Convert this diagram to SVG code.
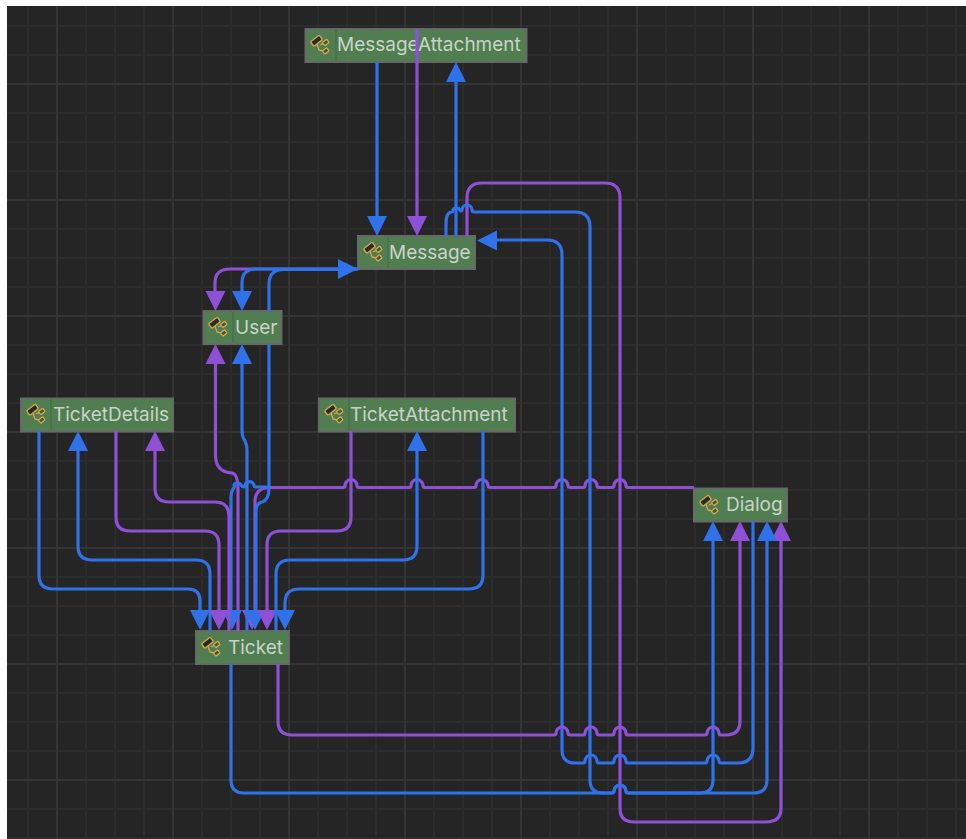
<svg xmlns="http://www.w3.org/2000/svg" width="966" height="839" viewBox="0 0 966 839">
<style>
.bg{fill:#252525}
.mi{stroke:#2c2c2c;stroke-width:2;fill:none}
.ma{stroke:#343434;stroke-width:2;fill:none}
.box{fill:#507e50;stroke:#686868;stroke-width:2}
.div{stroke:#487148;stroke-width:1.5}
.lbl{font-family:"Inter","Liberation Sans",sans-serif;font-size:19px;fill:#c9d3c9}
.b,.p{fill:none;stroke-width:3.200;stroke-linejoin:round;stroke-linecap:butt}
.b{stroke:#2f72ea}
.p{stroke:#8f50d8}
.hb{fill:#2f72ea}
.hp{fill:#8f50d8}
</style>
<defs>
<symbol id="ic" viewBox="0 0 20 20" width="20" height="20" overflow="visible">
<g fill="none" stroke="#d8a64c" stroke-width="1.300">
<path d="M7,9 L9,15 L13,16 M10,10 L14,8"/>
<rect x="1" y="3" width="11" height="5.500" rx="1" fill="#2a2a2a" transform="rotate(-38 6.500 5.700)"/>
<rect x="13" y="5.500" width="5.500" height="4" rx="1" fill="#3f5a38" transform="rotate(-38 15.700 7.500)"/>
<rect x="13" y="14" width="5.500" height="4" rx="1" fill="#3f5a38" transform="rotate(-38 15.700 16)"/>
</g>
</symbol>
<path id="down" d="M-10,-20 H10 L0,0 Z"/>
<path id="up" d="M-10,20 H10 L0,0 Z"/>
</defs>
<rect x="7" y="6" width="959" height="833" class="bg"/>
<g id="grid">
<path class="mi" d="M28,6V839M86,6V839M115,6V839M144,6V839M202,6V839M231,6V839M260,6V839M318,6V839M347,6V839M376,6V839M434,6V839M463,6V839M492,6V839M550,6V839M579,6V839M608,6V839M666,6V839M695,6V839M724,6V839M782,6V839M811,6V839M840,6V839M898,6V839M927,6V839M956,6V839"/>
<path class="mi" d="M7,26H966M7,55H966M7,113H966M7,142H966M7,171H966M7,229H966M7,258H966M7,287H966M7,345H966M7,374H966M7,403H966M7,461H966M7,490H966M7,519H966M7,577H966M7,606H966M7,635H966M7,693H966M7,722H966M7,751H966M7,809H966M7,838H966"/>
<path class="ma" d="M57,6V839M173,6V839M289,6V839M405,6V839M521,6V839M637,6V839M753,6V839M869,6V839"/>
<path class="ma" d="M7,84H966M7,200H966M7,316H966M7,432H966M7,548H966M7,664H966M7,780H966"/>
</g>
<g id="MessageAttachment"><rect class="box" x="305.500" y="29" width="221" height="33"/><path class="div" d="M336,30V61"/><use href="#ic" x="310" y="35"/><text class="lbl" x="337" y="51">MessageAttachment</text></g>
<g id="Message"><rect class="box" x="358" y="236" width="117" height="33"/><path class="div" d="M388,237V268"/><use href="#ic" x="363" y="242"/><text class="lbl" x="389" y="259">Message</text></g>
<g id="User"><rect class="box" x="203.500" y="311" width="78" height="33"/><path class="div" d="M233,312V343"/><use href="#ic" x="208" y="317"/><text class="lbl" x="235" y="334">User</text></g>
<g id="TicketDetails"><rect class="box" x="21" y="398.500" width="152" height="33"/><path class="div" d="M51,399V431"/><use href="#ic" x="26" y="404"/><text class="lbl" x="53" y="421">TicketDetails</text></g>
<g id="TicketAttachment"><rect class="box" x="319" y="398.500" width="196" height="33"/><path class="div" d="M349,399V431"/><use href="#ic" x="324" y="404"/><text class="lbl" x="350" y="421">TicketAttachment</text></g>
<g id="Dialog"><rect class="box" x="694" y="488.500" width="93" height="33"/><use href="#ic" x="699" y="495"/><text class="lbl" x="726" y="511">Dialog</text></g>
<g id="Ticket"><rect class="box" x="196" y="631" width="93" height="33"/><use href="#ic" x="201" y="637"/><text class="lbl" x="228" y="654">Ticket</text></g>
<g id="connectors">
<path class="p" d="M694,487.500H628q-2,0 -2,-2a6,6 0 0 0 -12,0q0,2 -2,2H599q-2,0 -2,-2a6,6 0 0 0 -12,0q0,2 -2,2H570q-2,0 -2,-2a6,6 0 0 0 -12,0q0,2 -2,2H490q-2,0 -2,-2a6,6 0 0 0 -12,0q0,2 -2,2H425q-2,0 -2,-2a6,6 0 0 0 -12,0q0,2 -2,2H359q-2,0 -2,-2a6,6 0 0 0 -12,0q0,2 -2,2H270Q255,487.500 255,502V611"/>
<use href="#down" x="252" y="630" class="hp"/>
<path class="p" d="M417,29V216"/><use href="#down" x="417" y="236" class="hp"/>
<path class="b" d="M377,62V216"/><use href="#down" x="377" y="236" class="hb"/>
<path class="b" d="M456,236V82"/><use href="#up" x="456" y="62" class="hb"/>
<path class="p" d="M467,236V198Q467,183 482,183H605Q620,183 620,198V808Q620,822 634,822H766Q781,822 781,808V541"/><use href="#up" x="781" y="521" class="hp"/>
<path class="b" d="M446,236V224Q446,212 452,212q1,0 1,-2a4,4 0 0 1 7,0q1,2 2,0a5,5 0 0 1 10,0q0,2 3,2H575Q590,212 590,227V780Q590,793 603,793H612q2,0 2,-2a6,6 0 0 1 12,0q0,2 2,2H754Q767,793 767,780V541"/><use href="#up" x="767" y="521" class="hb"/>
<path class="b" d="M753,521V748Q753,763 738,763H721q-2,0 -2,-2a6,6 0 0 0 -12,0q0,2 -2,2H628q-2,0 -2,-2a6,6 0 0 0 -12,0q0,2 -2,2H599q-2,0 -2,-2a6,6 0 0 0 -12,0q0,2 -2,2H575Q562,763 562,750V255Q562,240 547,240H497"/>
<path class="hb" d="M477,240.500L497,230.500V250.500Z"/>
<path class="b" d="M231,664V780Q231,793 244,793H612q2,0 2,-2a6,6 0 0 1 12,0q0,2 2,2H700Q713,793 713,780V541"/><use href="#up" x="713" y="521" class="hb"/>
<path class="p" d="M278,664V721Q278,735 292,735H554q2,0 2,-2a6,6 0 0 1 12,0q0,2 2,2H583q2,0 2,-2a6,6 0 0 1 12,0q0,2 2,2H612q2,0 2,-2a6,6 0 0 1 12,0q0,2 2,2H705q2,0 2,-2a6,6 0 0 1 12,0q0,2 2,2H726Q740,735 740,721V541"/><use href="#up" x="740" y="521" class="hp"/>
<path class="p" d="M358,269H230Q215,269 215,283V291"/><use href="#down" x="215.500" y="311" class="hp"/>
<path class="b" d="M358,269H256Q242,269 242,283V291"/><use href="#down" x="242" y="311" class="hb"/>
<path class="b" d="M269,311V284Q269,269.500 284,269.500H339"/><path class="hb" d="M358,269L338,259V279Z"/>
<path class="p" d="M215.500,364V455Q215.500,472 232,473Q238,474 238,490V631"/><use href="#up" x="215.500" y="344" class="hp"/>
<path class="b" d="M247,631V450Q247,445 245,441Q242,437 242,430V364"/><use href="#up" x="242" y="344" class="hb"/>
<path class="b" d="M269,344V488Q269,500 262,502Q256,503 256,512V611"/><use href="#down" x="255" y="630" class="hb"/>
<path class="b" d="M231,611V497Q231,492 233,489Q235,487 234,485a4,4 0 0 1 7,0q1,2 3,2h0q1,0 1,-2a5,6 0 0 1 9,0q0,2 2,2H269"/><use href="#down" x="232" y="630" class="hb"/>
<path class="b" d="M39,431V575Q39,589 53,589H188Q200,589 200,601V611"/><use href="#down" x="200" y="630" class="hb"/>
<path class="b" d="M210,631V574Q210,560 196,560H92Q78,560 78,546V451"/><use href="#up" x="78" y="431" class="hb"/>
<path class="p" d="M116,431V517Q116,531 130,531H205Q219,531 219,545V611"/><use href="#down" x="219" y="630" class="hp"/>
<path class="p" d="M229,631V516Q229,502 215,502H169Q155,502 155,488V451"/><use href="#up" x="155" y="431" class="hp"/>
<path class="p" d="M351,431V517Q351,531 337,531H281Q267,531 267,545V611"/><use href="#down" x="267" y="630" class="hp"/>
<path class="b" d="M417,451V546Q417,560 403,560H290Q276,560 276,574V631"/><use href="#up" x="417" y="431" class="hb"/>
<path class="b" d="M483,431V575Q483,589 469,589H299Q285,589 285,603V611"/><use href="#down" x="285" y="630" class="hb"/>
</g>
</svg>
